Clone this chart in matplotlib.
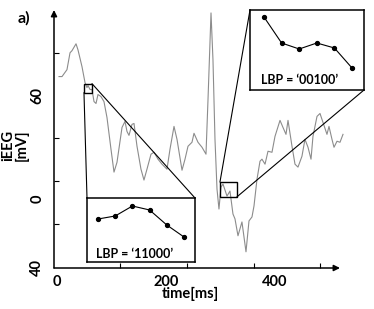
import matplotlib.pyplot as plt
from matplotlib.patches import Rectangle, ConnectionPatch

plt.rcParams['font.family'] = ['Lato', 'DejaVu Sans']
plt.rcParams['font.weight'] = 'bold'

# iEEG trace: time [ms] and amplitude [mV]
time_ms = [3.7, 9.2, 18.3, 23.9, 27.5, 34.9, 38.5, 45.9, 51.4, 55.0,
           56.9, 60.6, 64.2, 67.9, 71.6, 75.2, 80.7, 86.2, 91.7, 99.1,
           104.6, 110.1, 119.3, 124.8, 128.4, 132.1, 137.6, 141.3, 146.8, 154.1,
           159.6, 165.1, 172.5, 178.0, 185.3, 192.7, 201.8, 207.3, 214.7, 220.2,
           229.4, 234.9, 240.4, 247.7, 251.4, 258.7, 266.1, 273.4, 277.1, 282.6,
           286.2, 289.9, 293.6, 297.2, 300.9, 304.6, 311.9, 317.4, 322.9, 326.6,
           332.1, 339.4, 346.8, 352.3, 357.8, 361.5, 367.0, 372.5, 376.1, 381.7,
           387.2, 394.5, 400.0, 409.2, 414.7, 420.2, 423.9, 431.2, 436.7, 442.2,
           449.5, 455.0, 460.6, 466.1, 469.7, 477.1, 482.6, 488.1, 495.4, 499.1,
           504.6, 508.3, 513.8, 519.3, 524.8]
ieeg_mv = [71.0, 71.0, 75.0, 84.8, 86.0, 90.0, 86.5, 76.7, 67.5, 64.6,
           65.8, 63.5, 63.5, 56.5, 55.4, 60.6, 59.4, 56.5, 47.3, 28.8,
           15.6, 21.3, 41.5, 45.0, 39.2, 36.9, 43.3, 43.8, 30.6, 17.3,
           11.0, 17.3, 26.0, 27.1, 23.1, 20.2, 17.3, 28.8, 42.1, 34.6,
           16.7, 23.1, 30.6, 32.9, 38.1, 32.9, 30.0, 26.0, 57.7, 107.9,
           80.8, 34.6, 5.8, -5.8, 6.9, 8.7, 1.7, 4.6, -8.7, -11.5,
           -21.3, -13.3, -30.6, -12.7, -10.4, -4.0, 11.5, 21.9, 23.1, 20.2,
           27.7, 27.1, 36.3, 45.6, 41.5, 37.5, 45.6, 30.6, 20.2, 18.5,
           24.8, 34.6, 30.0, 23.1, 36.3, 47.9, 49.6, 44.4, 37.5, 42.1,
           34.6, 30.0, 33.5, 32.9, 37.5]

# zoomed windows: (t0, t1), (v0, v1)
win1_t, win1_v = (49.5, 64.2), (61.7, 66.9)
win2_t, win2_v = (299.0, 330.0), (1.2, 9.8)

# six samples shown in each inset (inset units)
lbp1_vals = [43, 46, 56, 52, 37, 25]
lbp2_vals = [73, 47, 41, 47, 42, 22]
lbp1_code = '11000'
lbp2_code = '00100'

xtick_vals = [0, 200, 400]
xtick_text = ['0', '200', '400']
ytick_vals = [60, 0, -40]
ytick_text = ['60', '0', '40']
xtick_marks = [115.6, 238.5, 361.5, 482.6]
ytick_marks = [84.8, 60.0, 35.2, 10.4, -14.4]

W, H = 374, 309
fig = plt.figure(figsize=(W / 100, H / 100), dpi=100)
ax = fig.add_axes([54 / W, 1 - 268 / H, 286 / W, 258 / H])
ax.set_facecolor('none')

ax.plot(time_ms, ieeg_mv, color='#8c8c8c', lw=0.8, clip_on=False)
ax.set_xlim(-5.5, 519.3)
ax.set_ylim(-39.2, 109.6)

for s in ax.spines.values():
    s.set_visible(False)
arrow = dict(arrowstyle='-|>', color='black', lw=1.1, mutation_scale=9,
             shrinkA=0, shrinkB=0)
ax.annotate('', xy=(1, 0), xytext=(0, 0), xycoords='axes fraction', arrowprops=arrow)
ax.annotate('', xy=(0, 1), xytext=(0, 0), xycoords='axes fraction', arrowprops=arrow)

ax.set_xticks(xtick_vals, xtick_text)
ax.set_yticks(ytick_vals, ytick_text)
ax.set_xticks(xtick_marks, minor=True)
ax.set_yticks(ytick_marks, minor=True)
ax.tick_params(which='major', length=0, labelsize=10.5)
ax.tick_params(axis='x', which='major', pad=5)
ax.tick_params(axis='y', which='major', pad=7, labelrotation=90)
for lbl in ax.get_yticklabels():
    lbl.set_va('center')
ax.tick_params(which='minor', direction='in', length=3.5, width=0.8)

# zoom boxes on the trace
for (t0, t1), (v0, v1) in [(win1_t, win1_v), (win2_t, win2_v)]:
    ax.add_patch(Rectangle((t0, v0), t1 - t0, v1 - v0, fill=False,
                           ec='black', lw=1.0, zorder=4))

# insets
ins1 = fig.add_axes([87 / W, 1 - 262 / H, 108 / W, 64 / H])
ins1.plot(range(1, 7), lbp1_vals, '-o', color='black', lw=0.8, ms=2.8)
ins1.set_xlim(0.36, 6.64)
ins1.set_ylim(0, 64)
ins1.text(0.083, 0.125, f'LBP = \u2018{lbp1_code}\u2019', transform=ins1.transAxes,
          fontsize=9, fontweight='bold', va='center', ha='left')

ins2 = fig.add_axes([250 / W, 1 - 90 / H, 114 / W, 80 / H])
ins2.plot(range(1, 7), lbp2_vals, '-o', color='black', lw=0.8, ms=2.8)
ins2.set_xlim(0.205, 6.68)
ins2.set_ylim(0, 80)
ins2.text(0.096, 0.125, f'LBP = \u2018{lbp2_code}\u2019', transform=ins2.transAxes,
          fontsize=9, fontweight='bold', va='center', ha='left')

for ins in (ins1, ins2):
    ins.set_xticks([])
    ins.set_yticks([])
    for s in ins.spines.values():
        s.set_linewidth(1.1)

links = [
    ((win1_t[0], win1_v[0]), ins1, (0, 1)),
    ((win1_t[1], win1_v[1]), ins1, (1, 1)),
    ((win2_t[0], win2_v[1]), ins2, (0, 1)),
    ((win2_t[1], win2_v[0]), ins2, (1, 0)),
]
for xy, ins, corner in links:
    con = ConnectionPatch(xyA=xy, coordsA='data', axesA=ax,
                          xyB=corner, coordsB='axes fraction', axesB=ins,
                          color='black', lw=0.8)
    fig.add_artist(con)

fig.text(15 / W, 1 - 145 / H, 'iEEG\n[mV]', rotation=90, ha='center', va='center',
         fontsize=10.5, fontweight='bold', linespacing=0.95)
fig.text(190 / W, 1 - 294 / H, 'time[ms]', ha='center', va='center',
         fontsize=10.5, fontweight='bold')
fig.text(24 / W, 1 - 18 / H, 'a)', ha='center', va='center',
         fontsize=11.5, fontweight='bold')

fig.savefig('out.png', dpi=100)
